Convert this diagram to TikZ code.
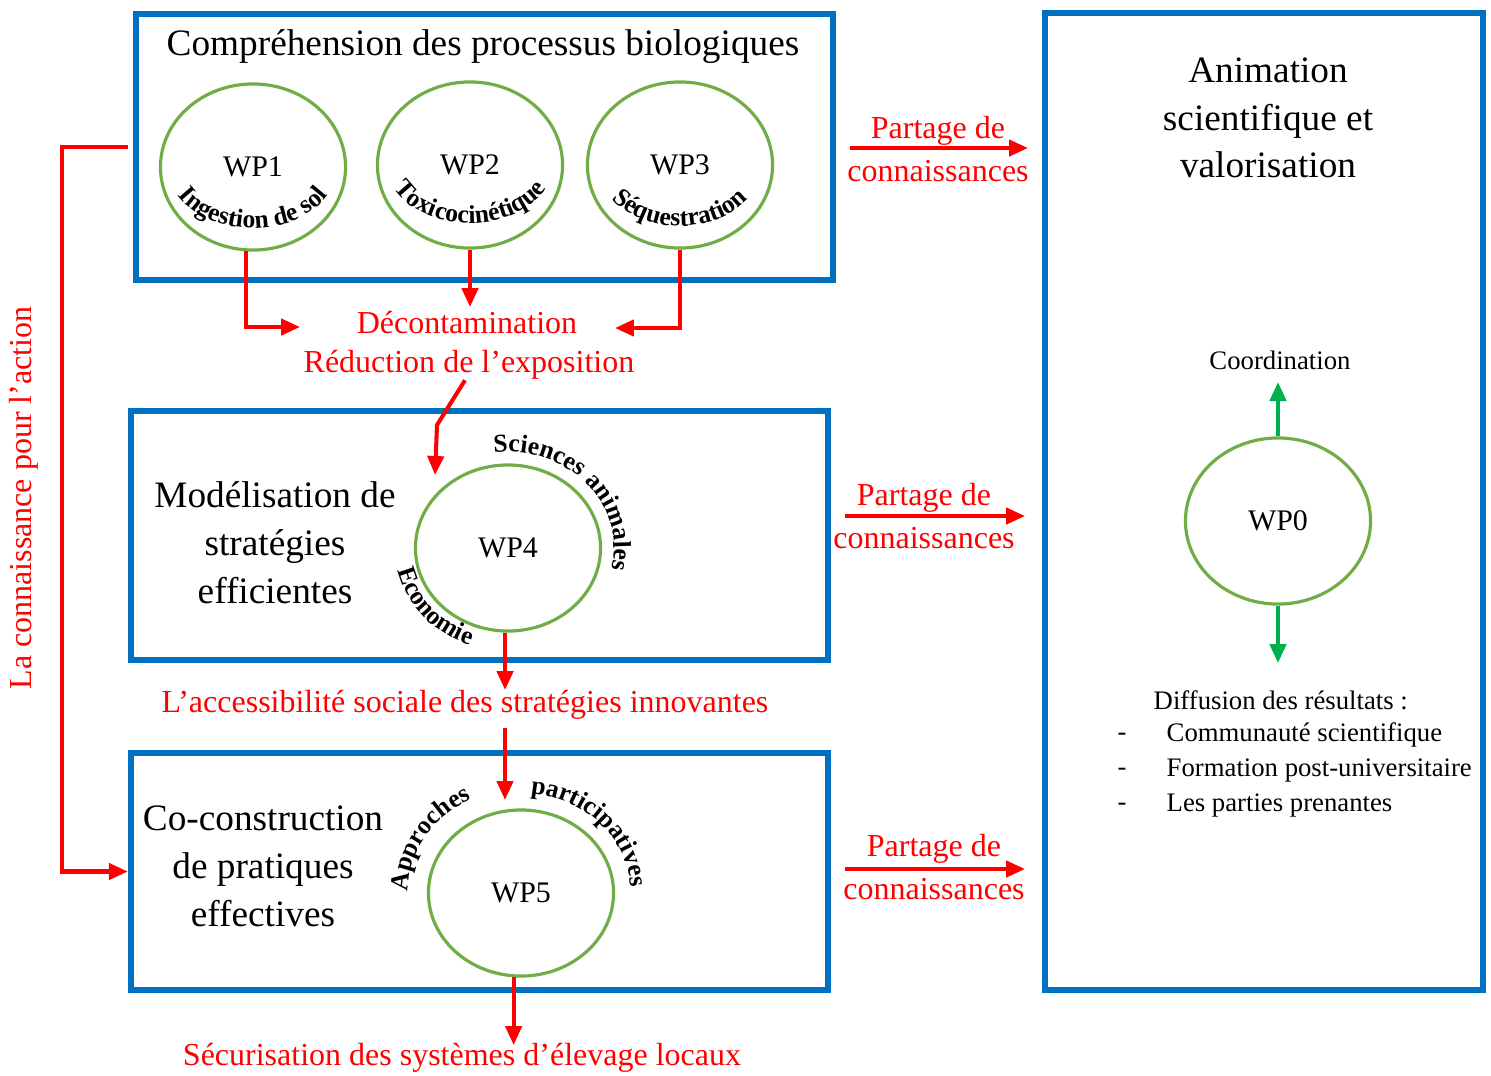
\documentclass[tikz,border=0pt]{standalone}
\usepackage{fontspec}
\setmainfont{Liberation Serif}
\usetikzlibrary{shapes.geometric,arrows.meta,decorations.text,calc}

\definecolor{boxblue}{RGB}{0,112,192}
\definecolor{wpgreen}{RGB}{112,173,71}
\definecolor{arrgreen}{RGB}{0,176,80}

\begin{document}
\begin{tikzpicture}[x=0.01cm,y=-0.01cm,
  bluebox/.style={draw=boxblue,line width=1.7pt,inner sep=0pt,outer sep=0pt},
  wp/.style={ellipse,draw=wpgreen,line width=0.9pt,inner sep=0pt,
    minimum width=1.85cm,minimum height=1.66cm,font=\fontsize{8.5}{10}\selectfont},
  big/.style={font=\fontsize{10.6}{13.6}\selectfont,align=center,inner sep=0pt},
  redlab/.style={text=red,font=\fontsize{9.1}{12}\selectfont,align=center,inner sep=0pt},
  small/.style={font=\fontsize{7.6}{9}\selectfont,inner sep=0pt},
  redarr/.style={draw=red,line width=1.15pt,-{Triangle[length=5.4pt,width=4.6pt]}},
  greenarr/.style={draw=arrgreen,line width=1.15pt,-{Triangle[length=5.4pt,width=4.6pt]}},
  curved/.style={decorate,decoration={text along path,text align=center,
    text={|\fontsize{7.3}{8}\selectfont\bfseries|#1}}}
]
\useasboundingbox[fill=white] (0,0) rectangle (1491,1075);

% framing boxes
\node[bluebox,minimum width=6.97cm,minimum height=2.66cm] (box1) at (484.5,147) {};
\node[bluebox,minimum width=4.38cm,minimum height=9.77cm] (boxr) at (1264,501.5) {};
\node[bluebox,minimum width=6.97cm,minimum height=2.49cm] (box2) at (479.5,535.5) {};
\node[bluebox,minimum width=6.97cm,minimum height=2.37cm] (box3) at (479.5,871.5) {};

% headings
\node[big] (t1) at (483,47) {Compréhension des processus biologiques};
\node[big] (t2) at (275,543) {Modélisation de\\stratégies\\efficientes};
\node[big] (t3) at (263,866) {Co-construction\\de pratiques\\effectives};
\node[big] (tr) at (1268,118) {Animation\\scientifique et\\valorisation};

% work packages
\node[wp] (wp1) at (253,167) {WP1};
\node[wp] (wp2) at (470,165) {WP2};
\node[wp] (wp3) at (680,165) {WP3};
\node[wp] (wp4) at (508,548) {WP4};
\node[wp] (wp5) at (521,893) {WP5};
\node[wp] (wp0) at (1278,521) {WP0};

% curved captions
\path[curved={Ingestion de sol}] ($(wp1.center)+(165:85 and 61)$)
  arc[start angle=165,end angle=15,x radius=85,y radius=61];
\path[curved={Toxicocinétique}] ($(wp2.center)+(165:83 and 58)$)
  arc[start angle=165,end angle=15,x radius=83,y radius=58];
\path[curved={Séquestration}] ($(wp3.center)+(165:82 and 61)$)
  arc[start angle=165,end angle=15,x radius=82,y radius=61];
\path[curved={Sciences animales}] ($(wp4.center)+(256:106 and 96)$)
  arc[start angle=256,end angle=380,x radius=106,y radius=96];
\path[curved={Economie}] ($(wp4.center)+(176:113 and 103)$)
  arc[start angle=176,end angle=102,x radius=113,y radius=103];
\path[curved={Approches}] ($(wp5.center)+(178:113 and 104)$)
  arc[start angle=178,end angle=247,x radius=113,y radius=104];
\path[curved={participatives}] ($(wp5.center)+(272:110 and 100)$)
  arc[start angle=272,end angle=360,x radius=110,y radius=100];

% red outcome labels
\node[redlab] (decon) at (467,323) {Décontamination};
\node[redlab] (reduc) at (469,365) {Réduction de l’exposition};
\node[redlab] (acc) at (465,705) {L’accessibilité sociale des stratégies innovantes};
\node[redlab] (secu) at (462,1058) {Sécurisation des systèmes d’élevage locaux};
\node[redlab,rotate=90] (lk) at (24,498) {La connaissance pour l’action};
\node[redlab] (p1) at (938,149) {Partage de\\connaissances};
\node[redlab] (p2) at (924,516) {Partage de\\connaissances};
\node[redlab] (p3) at (934,867) {Partage de\\connaissances};

% WP0 notes
\node[small] (coord) at (1280,360) {Coordination};
\node[small,anchor=west] (diff) at (1153,700) {Diffusion des résultats :};
\node[small] (b1) at (1122,737) {-};
\node[small] (b2) at (1122,772) {-};
\node[small] (b3) at (1122,807) {-};
\node[small,anchor=west] (l1) at (1166,735) {Communauté scientifique};
\node[small,anchor=west] (l2) at (1166,770) {Formation post-universitaire};
\node[small,anchor=west] (l3) at (1166,805) {Les parties prenantes};

% arrow end points
\coordinate (d1) at (300,327);
\coordinate (d2) at (470,307);
\coordinate (d3) at (615,328);
\coordinate (k1) at (437,425);
\coordinate (k2) at (435,475);
\coordinate (e4) at (505,690);
\coordinate (s5) at (505,728);
\coordinate (e5) at (505,800);
\coordinate (e6) at (511,1045);
\coordinate (a1s) at (850,148);
\coordinate (a1e) at (1028,148);
\coordinate (a2s) at (845,516);
\coordinate (a2e) at (1025,516);
\coordinate (a3s) at (845,869);
\coordinate (a3e) at (1025,869);
\coordinate (g1) at (1280,382);
\coordinate (g2) at (1277,663);

% connectors
\draw[redarr] (wp1.265) |- (d1);
\draw[redarr] (wp2.south) -- (d2);
\draw[redarr] (wp3.south) |- (d3);
\draw[redarr] ([xshift=-0.04cm]reduc.south) -- (k1) -- (k2);
\draw[redarr] (wp4.268) -- (wp4.268 |- e4);
\draw[redarr] (s5) -- (e5);
\draw[redarr] (wp5.265) -- (wp5.265 |- e6);
\draw[redarr] ([xshift=-0.08cm]box1.west) -- ++(-66,0) |- ([xshift=-0.03cm]box3.west);
\draw[redarr] (a1s) -- (a1e);
\draw[redarr] (a2s) -- (a2e);
\draw[redarr] (a3s) -- (a3e);
\draw[greenarr] (wp0.north) -- (wp0.north |- g1);
\draw[greenarr] (wp0.south) -- (wp0.south |- g2);
\end{tikzpicture}
\end{document}
